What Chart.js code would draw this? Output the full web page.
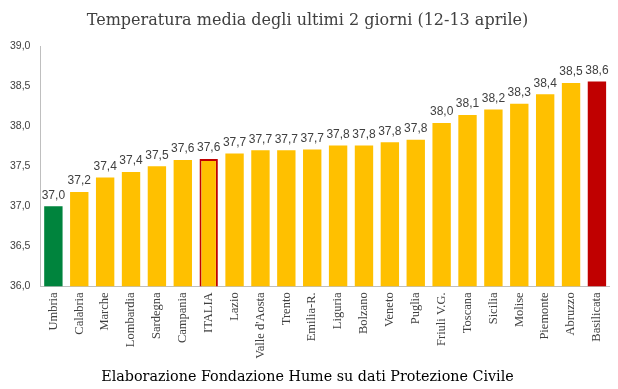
<!DOCTYPE html>
<html>
<head>
<meta charset="utf-8">
<script src="https://cdn.jsdelivr.net/npm/chart.js@4/dist/chart.umd.min.js"></script>
<style>
html,body{margin:0;padding:0;background:#fff;}
#wrap{width:618px;height:389px;position:relative;}
</style>
</head>
<body>
<div id="wrap"><canvas id="c" width="618" height="389"></canvas></div>
<script>
const titleText = "Temperatura media degli ultimi 2 giorni (12-13 aprile)";
const footerText = "Elaborazione Fondazione Hume su dati Protezione Civile";
const categories = ["Umbria","Calabria","Marche","Lombardia","Sardegna","Campania","ITALIA","Lazio","Valle d'Aosta","Trento","Emilia-R.","Liguria","Bolzano","Veneto","Puglia","Friuli V.G.","Toscana","Sicilia","Molise","Piemonte","Abruzzo","Basilicata"];
const temperatures = [37.00,37.18,37.36,37.43,37.50,37.58,37.59,37.66,37.70,37.70,37.71,37.76,37.76,37.80,37.83,38.04,38.14,38.21,38.28,38.40,38.54,38.56];
const yTicks = [36.0,36.5,37.0,37.5,38.0,38.5,39.0];

const YELLOW = "#FFC000", GREEN = "#00843D", RED = "#C00000";
const fills = categories.map((c,i) => i === 0 ? GREEN : (i === categories.length-1 ? RED : YELLOW));
const borders = categories.map(c => c === "ITALIA" ? RED : "rgba(0,0,0,0)");
const borderW = categories.map(c => c === "ITALIA" ? 2 : 0);

const fmt = v => v.toFixed(1).replace(".", ",");

const valueLabels = {
  id: "valueLabels",
  afterDatasetsDraw(chart) {
    const ctx = chart.ctx;
    const meta = chart.getDatasetMeta(0);
    ctx.save();
    ctx.font = "12px 'Liberation Sans', Arial, sans-serif";
    ctx.fillStyle = "#404040";
    ctx.textAlign = "center";
    ctx.textBaseline = "bottom";
    meta.data.forEach((el, i) => {
      ctx.fillText(fmt(temperatures[i]), el.x, el.y - 5);
    });
    ctx.restore();
  }
};

new Chart(document.getElementById("c"), {
  type: "bar",
  data: {
    labels: categories,
    datasets: [{
      data: temperatures,
      backgroundColor: fills,
      borderColor: borders,
      borderWidth: borderW,
      borderSkipped: false,
      barPercentage: 0.71,
      categoryPercentage: 1.0
    }]
  },
  options: {
    responsive: false,
    animation: false,
    layout: { padding: { left: 0, right: 3, top: 0, bottom: 3 } },
    plugins: {
      legend: { display: false },
      tooltip: { enabled: false },
      title: {
        display: true,
        text: titleText,
        color: "#404040",
        font: { family: "'DejaVu Serif', serif", size: 16, weight: "normal" },
        padding: { top: 11, bottom: 16 }
      },
      subtitle: {
        display: true,
        position: "bottom",
        text: footerText,
        color: "#000000",
        font: { family: "'DejaVu Serif', serif", size: 14.3, weight: "normal" },
        padding: { top: 4, bottom: 0 }
      }
    },
    scales: {
      x: {
        grid: { display: false, drawTicks: false },
        border: { display: true, color: "#BFBFBF", width: 1 },
        ticks: {
          autoSkip: false,
          maxRotation: 90,
          minRotation: 90,
          padding: 6,
          color: "#404040",
          font: { family: "'Liberation Serif', serif", size: 12.5 }
        }
      },
      y: {
        min: 36,
        max: 39,
        afterBuildTicks(axis) { axis.ticks = yTicks.map(v => ({ value: v })); },
        grid: { display: false, drawTicks: false },
        border: { display: true, color: "#BFBFBF", width: 1 },
        ticks: {
          padding: 10,
          color: "#404040",
          font: { family: "'Liberation Sans', Arial, sans-serif", size: 10.5 },
          callback: v => fmt(v)
        }
      }
    }
  },
  plugins: [valueLabels]
});
</script>
</body>
</html>
